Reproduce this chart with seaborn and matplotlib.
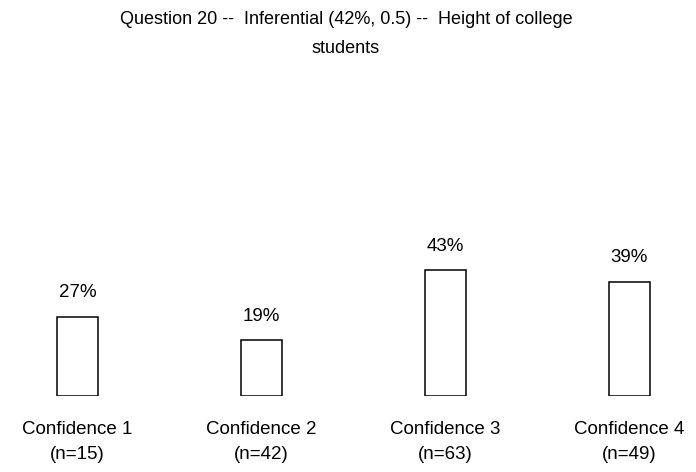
import matplotlib
matplotlib.use("Agg")
import matplotlib.pyplot as plt
import seaborn as sns
import pandas as pd

categories = ["Confidence 1", "Confidence 2", "Confidence 3", "Confidence 4"]
counts = [15, 42, 63, 49]
percents = [27, 19, 43, 39]
title = "Question 20 --  Inferential (42%, 0.5) --  Height of college\nstudents"

sns.set_style("white")
plt.rcParams["font.family"] = ["Liberation Sans", "DejaVu Sans"]
plt.rcParams["text.color"] = "black"
plt.rcParams["xtick.color"] = "black"

W, H = 696, 472
fig = plt.figure(figsize=(W / 100, H / 100), dpi=100)
base_px = 395.5
ax = fig.add_axes([0, (H - base_px) / H, 1, base_px / H])

df = pd.DataFrame({"cat": categories, "pct": percents})
sns.barplot(data=df, x="cat", y="pct", color="white", edgecolor="black",
            linewidth=1.1, width=0.228, ax=ax, saturation=1)

px_per_unit = 184.0
ax.set_xlim(-77.5 / px_per_unit, (W - 77.5) / px_per_unit)
ax.set_ylim(0, base_px / 2.92)

for i, p in enumerate(percents):
    ax.annotate(f"{p}%", (i, p), xytext=(0, 11), textcoords="offset points",
                ha="center", va="bottom", fontsize=13.5, color="black")

ax.set_xticks(range(len(categories)))
ax.set_xticklabels([f"{c}\n(n={n})" for c, n in zip(categories, counts)],
                   fontsize=13.5, linespacing=1.6, color="black")
ax.tick_params(axis="x", length=0, pad=18.5)
ax.set_yticks([])
ax.set_xlabel("")
ax.set_ylabel("")
for s in ax.spines.values():
    s.set_visible(False)

fig.text(0.497, 1 - 34 / H, title, ha="center", va="center", fontsize=13,
         linespacing=1.9, color="black")

fig.savefig("out.png", dpi=100)
